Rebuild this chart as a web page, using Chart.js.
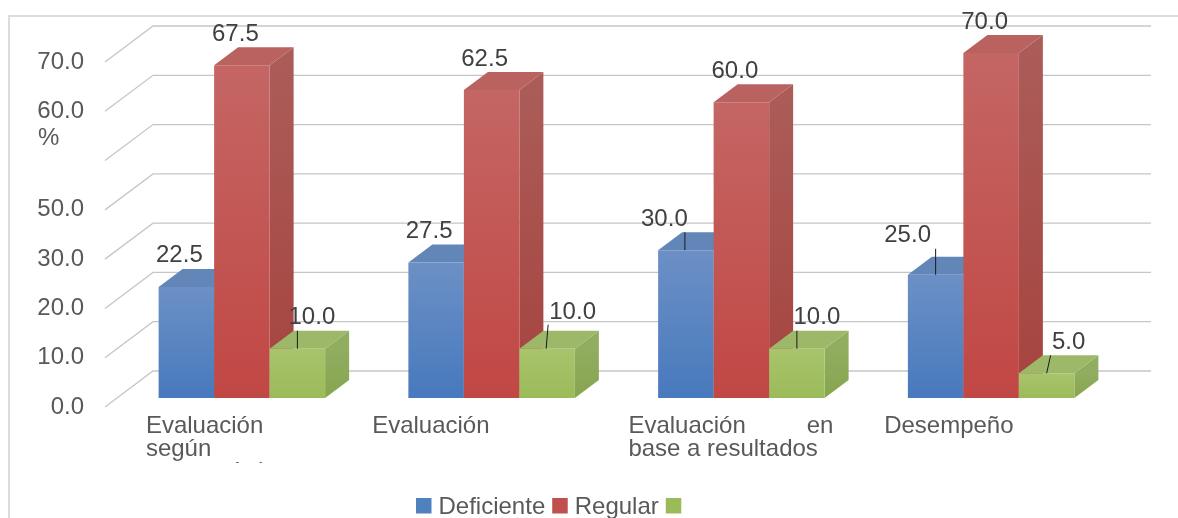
<!DOCTYPE html>
<html>
<head>
<meta charset="utf-8">
<title>Evaluación</title>
<script src="https://cdn.jsdelivr.net/npm/chart.js@4"></script>
<style>
  html, body { margin: 0; padding: 0; background: #fff; overflow: hidden; }
</style>
</head>
<body>
<canvas id="evalChart" width="1178" height="518"></canvas>
<script>
// Chart data
const categories = ['Evaluación según características', 'Evaluación', 'Evaluación en base a resultados', 'Desempeño'];
const categoryLines = [['Evaluación', 'según', 'características'], ['Evaluación'], ['Evaluación en', 'base a resultados'], ['Desempeño']];
const deficiente = [22.5, 27.5, 30.0, 25.0];
const regular = [67.5, 62.5, 60.0, 70.0];
const sinNombre = [10.0, 10.0, 10.0, 5.0];
const seriesNames = ['Deficiente', 'Regular', ''];
const yTickLabels = ['0.0', '10.0', '20.0', '30.0', '50.0', '', '60.0', '70.0'];
const yUnitLabel = '%';

// Fake 3D depth of the columns, and of the wall/floor behind them
const DEPTH_X = 24;
const DEPTH_Y = 18;
const WALL_X = 36;
const WALL_Y = 27;
const FRONT_X = 12;
const FRONT_Y = 9;

const FONT = '24px "Liberation Sans", Arial, sans-serif';
const AXIS_TEXT = '#595959';
const LABEL_TEXT = '#404040';
const GRID_COLOR = '#c6c6c6';
const FRAME_COLOR = '#dcdcdc';

// Colours per series: front gradient, side gradient, top face
const palette = [
  { front: ['#6c90c5', '#4779bd'], side: ['#5f82b5', '#44699f'], top: '#6286b8', legend: '#4f81bd' },
  { front: ['#c46664', '#c14744'], side: ['#ab5c58', '#a6433f'], top: '#b9625f', legend: '#c0504d' },
  { front: ['#a9c46c', '#9bbb59'], side: ['#90ad60', '#87a54e'], top: '#9cb868', legend: '#9bbb59' }
];

// Data label placement relative to the top centre of each column: [dx, dy]
const labelShift = [
  [[-7, -32], [-7, -31], [-21.5, -31], [-28, -39]],
  [[-6.5, -31], [-7, -31], [-6.5, -31], [-6.5, -31]],
  [[14.5, -31], [25.5, -36], [20, -31], [22, -31]]
];

// Leader lines from column top to label: [x at column, x at label, y at label]
const leaderLines = [
  [null, null, [-1, -1, -18], [0, 0, -26]],
  [null, null, null, null],
  [[0, 0, -18], [-1, 1, -24], [0, 0, -18], [0, 4, -18]]
];

// Category text placement
const categoryShift = [-96, -119.5, -113, -107];
const justifyWidth = [null, null, 205, null];
const categoryBaseline = 35;
const categoryLineHeight = 23;
const categoryClipBottom = 65;

function verticalGradient(ctx, top, bottom, colors) {
  const g = ctx.createLinearGradient(0, top, 0, bottom);
  g.addColorStop(0, colors[0]);
  g.addColorStop(1, colors[1]);
  return g;
}

function frontFill(seriesIndex) {
  return function(context) {
    const chart = context.chart;
    if (!chart.chartArea || context.type !== 'data') return palette[seriesIndex].legend;
    const y = chart.scales.y;
    return verticalGradient(chart.ctx, y.getPixelForValue(context.raw), y.getPixelForValue(0), palette[seriesIndex].front);
  };
}

function polygon(ctx, points, fill) {
  ctx.beginPath();
  ctx.moveTo(points[0][0], points[0][1]);
  for (let i = 1; i < points.length; i++) ctx.lineTo(points[i][0], points[i][1]);
  ctx.closePath();
  ctx.fillStyle = fill;
  ctx.fill();
}

function drawFrame(chart) {
  const ctx = chart.ctx;
  ctx.save();
  ctx.strokeStyle = FRAME_COLOR;
  ctx.lineWidth = 2;
  ctx.beginPath();
  ctx.moveTo(9, chart.height);
  ctx.lineTo(9, 16);
  ctx.lineTo(chart.width, 16);
  ctx.stroke();
  ctx.restore();
}

// Back wall lines and their diagonal run across the floor
function drawWallGrid(chart) {
  const ctx = chart.ctx;
  const y = chart.scales.y;
  const area = chart.chartArea;
  ctx.save();
  ctx.strokeStyle = GRID_COLOR;
  ctx.lineWidth = 1.3;
  y.ticks.forEach(tick => {
    const py = y.getPixelForValue(tick.value);
    ctx.beginPath();
    ctx.moveTo(area.left - FRONT_X, py + FRONT_Y);
    ctx.lineTo(area.left + WALL_X, py - WALL_Y);
    ctx.lineTo(area.right + WALL_X - 1, py - WALL_Y);
    ctx.stroke();
  });
  ctx.restore();
}

// Side and top faces go down first so the library's bar forms the front face
function drawBarFaces(chart, meta) {
  const ctx = chart.ctx;
  const colors = palette[meta.index];
  meta.data.forEach(bar => {
    const { x, y, base, width } = bar.getProps(['x', 'y', 'base', 'width'], true);
    const left = x - width / 2;
    const right = x + width / 2;
    polygon(ctx, [[right, y], [right + DEPTH_X, y - DEPTH_Y], [right + DEPTH_X, base - DEPTH_Y], [right, base]],
      verticalGradient(ctx, y, base, colors.side));
    polygon(ctx, [[left, y], [left + DEPTH_X, y - DEPTH_Y], [right + DEPTH_X, y - DEPTH_Y], [right, y]], colors.top);
  });
}

function drawDataLabels(chart) {
  const ctx = chart.ctx;
  ctx.save();
  ctx.font = FONT;
  ctx.textAlign = 'center';
  ctx.textBaseline = 'middle';
  chart.data.datasets.forEach((dataset, s) => {
    chart.getDatasetMeta(s).data.forEach((bar, i) => {
      const leader = leaderLines[s][i];
      if (leader) {
        ctx.strokeStyle = '#1a1a1a';
        ctx.lineWidth = 1;
        ctx.beginPath();
        ctx.moveTo(bar.x + leader[0], bar.y);
        ctx.lineTo(bar.x + leader[1], bar.y + leader[2]);
        ctx.stroke();
      }
      ctx.fillStyle = LABEL_TEXT;
      ctx.fillText(dataset.data[i].toFixed(1), bar.x + labelShift[s][i][0], bar.y + labelShift[s][i][1]);
    });
  });
  ctx.restore();
}

function drawCategoryLabels(chart) {
  const ctx = chart.ctx;
  const xScale = chart.scales.x;
  const bottom = chart.chartArea.bottom;
  ctx.save();
  // The category box cuts the text off after the second line
  ctx.beginPath();
  ctx.rect(0, bottom, chart.width, categoryClipBottom);
  ctx.clip();
  ctx.font = FONT;
  ctx.fillStyle = AXIS_TEXT;
  ctx.textAlign = 'left';
  ctx.textBaseline = 'alphabetic';
  categoryLines.forEach((lines, i) => {
    const left = xScale.getPixelForTick(i) + categoryShift[i];
    lines.forEach((line, n) => {
      const py = bottom + categoryBaseline + n * categoryLineHeight;
      const words = line.split(' ');
      if (justifyWidth[i] && n < lines.length - 1 && words.length > 1) {
        const used = words.reduce((sum, w) => sum + ctx.measureText(w).width, 0);
        const gap = (justifyWidth[i] - used) / (words.length - 1);
        let px = left;
        words.forEach(w => {
          ctx.fillText(w, px, py);
          px += ctx.measureText(w).width + gap;
        });
      } else {
        ctx.fillText(line, left, py);
      }
    });
  });
  ctx.restore();
}

function drawUnitLabel(chart) {
  const ctx = chart.ctx;
  const y = chart.scales.y;
  ctx.save();
  ctx.font = FONT;
  ctx.fillStyle = AXIS_TEXT;
  ctx.textAlign = 'left';
  ctx.textBaseline = 'alphabetic';
  ctx.fillText(yUnitLabel, y.left + 38, y.getPixelForValue(60) + 43);
  ctx.restore();
}

// Legend row with tight spacing between swatch and text
function drawLegend(chart) {
  const ctx = chart.ctx;
  let px = 416;
  ctx.save();
  ctx.font = FONT;
  ctx.textAlign = 'left';
  ctx.textBaseline = 'alphabetic';
  seriesNames.forEach((name, s) => {
    ctx.fillStyle = palette[s].legend;
    ctx.fillRect(px, 498, 15.5, 15.5);
    px += 15.5 + 7;
    ctx.fillStyle = AXIS_TEXT;
    ctx.fillText(name, px, 514);
    px += ctx.measureText(name).width + 7;
  });
  ctx.restore();
}

const columns3d = {
  id: 'columns3d',
  beforeDraw(chart) {
    drawFrame(chart);
  },
  // Paint the series left to right, each column after its side and top faces,
  // so a column to the right covers the side of its neighbour
  beforeDatasetsDraw(chart) {
    drawWallGrid(chart);
    chart.data.datasets.forEach((dataset, s) => {
      const meta = chart.getDatasetMeta(s);
      drawBarFaces(chart, meta);
      meta.controller.draw();
    });
    return false;
  },
  afterDraw(chart) {
    drawDataLabels(chart);
    drawCategoryLabels(chart);
    drawUnitLabel(chart);
    drawLegend(chart);
  }
};

new Chart(document.getElementById('evalChart'), {
  type: 'bar',
  data: {
    labels: categories,
    datasets: [
      { label: seriesNames[0], data: deficiente, backgroundColor: frontFill(0) },
      { label: seriesNames[1], data: regular, backgroundColor: frontFill(1) },
      { label: seriesNames[2], data: sinNombre, backgroundColor: frontFill(2) }
    ]
  },
  options: {
    responsive: false,
    animation: false,
    events: [],
    layout: { padding: { top: 53, right: 62, left: 0, bottom: 0 } },
    datasets: { bar: { categoryPercentage: 2 / 3, barPercentage: 1 } },
    plugins: { legend: { display: false }, tooltip: { enabled: false } },
    scales: {
      x: {
        grid: { display: false },
        border: { display: false },
        ticks: { display: false },
        afterFit(scale) { scale.height = 120; }
      },
      y: {
        min: 0,
        max: 70,
        grid: { display: false, drawTicks: false },
        border: { display: false },
        ticks: {
          stepSize: 10,
          autoSkip: false,
          padding: 33,
          labelOffset: FRONT_Y,
          color: AXIS_TEXT,
          font: { family: '"Liberation Sans", Arial, sans-serif', size: 24 },
          callback: (value, index) => yTickLabels[index]
        },
        afterFit(scale) { scale.width = 117; }
      }
    }
  },
  plugins: [columns3d]
});
</script>
</body>
</html>
